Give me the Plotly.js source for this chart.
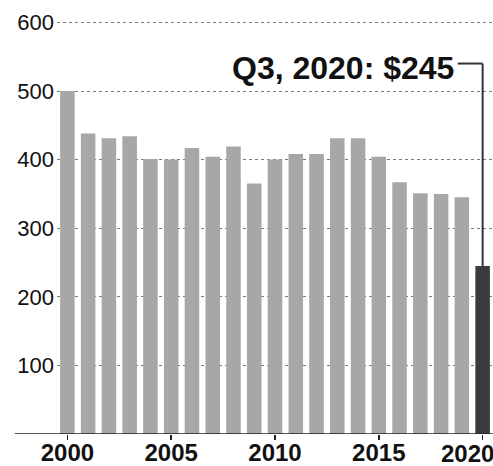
<!DOCTYPE html>
<html><head><meta charset="utf-8">
<script src="https://cdn.plot.ly/plotly-3.0.1.min.js"></script>
<style>html,body{margin:0;padding:0;background:#fff}#chart{width:493px;height:466px}</style>
</head><body><div id="chart"></div>
<script>
const years = [2000,2001,2002,2003,2004,2005,2006,2007,2008,2009,2010,2011,2012,2013,2014,2015,2016,2017,2018,2019,2020];
const values = [500,438,431,434,401,400,417,404,419,365,400,408,408,431,431,404,367,351,350,345,245];
const yTicks = [100,200,300,400,500,600];
const xTicks = [2000,2005,2010,2015,2020];
const calloutText = 'Q3, 2020: $245';
const calloutY = 540;

const last = years.length - 1;
const colors = years.map((y,i)=> i===last ? '#3b3b3b' : '#a7a7a7');
const font = 'Liberation Sans, Arial, Helvetica, sans-serif';

const trace = {type:'bar', x:years, y:values, marker:{color:colors, line:{width:0}}, width:0.7, hoverinfo:'skip'};

const lastTick = xTicks[xTicks.length-1];
const layout = {
  width:493, height:466,
  margin:{l:57, r:0, t:20, b:32},
  paper_bgcolor:'#fff', plot_bgcolor:'#fff',
  showlegend:false,
  xaxis:{range:[1999.5,2020.5], tickvals:xTicks, ticktext:xTicks.map(t=> t===lastTick ? '' : String(t)), ticks:'outside', ticklen:5, tickwidth:1.5, tickcolor:'#222',
    ticklabelstandoff:-8,
    showgrid:false, zeroline:false, showline:false, tickfont:{family:font, size:24, color:'#111', weight:'bold'}},
  yaxis:{range:[0,603.5], tickvals:yTicks, ticktext:yTicks.map(String), ticks:'', showgrid:true, gridcolor:'#7a7a7a', griddash:'dot', gridwidth:1,
    zeroline:false, showline:false, tickfont:{family:font, size:22, color:'#111'}, ticklabelstandoff:2},
  shapes:[
    {type:'line', xref:'paper', yref:'y', x0:-0.097, x1:1, y0:0, y1:0, line:{color:'#222', width:1.5}},
    {type:'line', xref:'x', yref:'y', x0:years[last], x1:years[last], y0:values[last], y1:calloutY, line:{color:'#333', width:2}},
    {type:'line', xref:'x', yref:'y', x0:years[last]-1.2, x1:years[last], y0:calloutY, y1:calloutY, line:{color:'#333', width:2}}
  ],
  annotations:[
    {xref:'x', yref:'y', x:years[last]-1.3, y:calloutY, text:calloutText, showarrow:false, xanchor:'right', yanchor:'middle', yshift:-4,
     font:{family:font, size:32, color:'#111', weight:'bold'}},
    {xref:'x', yref:'paper', x:lastTick, y:0, text:String(lastTick), showarrow:false, xanchor:'right', yanchor:'top', xshift:12, yshift:-5,
     borderpad:0, font:{family:font, size:24, color:'#111', weight:'bold'}}
  ]
};
Plotly.newPlot('chart',[trace],layout,{staticPlot:true, displayModeBar:false});
</script></body></html>
